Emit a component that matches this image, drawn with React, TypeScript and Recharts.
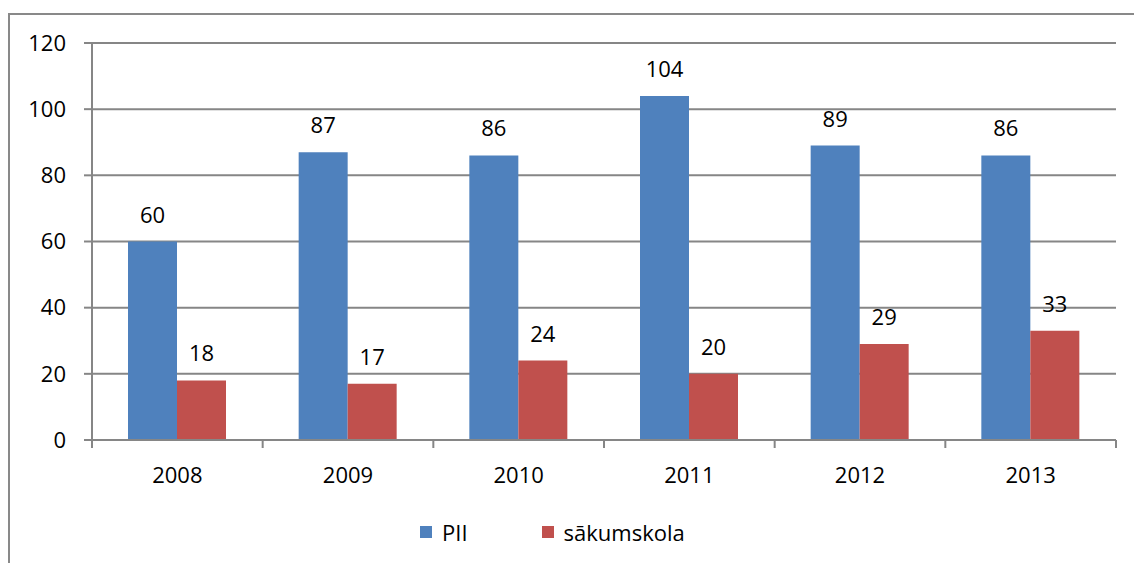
import { BarChart, Bar, XAxis, YAxis, CartesianGrid, LabelList } from "recharts";

const years = ["2008", "2009", "2010", "2011", "2012", "2013"];
const pii = [60, 87, 86, 104, 89, 86];
const sakumskola = [18, 17, 24, 20, 29, 33];
const yTicks = [0, 20, 40, 60, 80, 100, 120];

const seriesInfo = [
  { key: "pii", name: "PII", color: "#4F81BD" },
  { key: "sakumskola", name: "sākumskola", color: "#C0504D" },
];

const data = years.map((year, i) => ({
  year,
  pii: pii[i],
  sakumskola: sakumskola[i],
}));

const FONT = "'Open Sans', sans-serif";
const GRID = "#868686";

// category labels plus Excel-style ticks at the band edges
function YearTick(props: any) {
  const { x, y, payload, index } = props;
  const off = payload.offset ?? 0;
  const axisY = y - 27;
  return (
    <g>
      <line x1={x - off} x2={x - off} y1={axisY} y2={axisY + 8} stroke={GRID} strokeWidth={2} />
      {index === years.length - 1 && (
        <line x1={x + off} x2={x + off} y1={axisY} y2={axisY + 8} stroke={GRID} strokeWidth={2} />
      )}
      <text x={x} y={y} dy="0.71em" textAnchor="middle" fill="#000" fontSize={22} fontFamily={FONT}>
        {payload.value}
      </text>
    </g>
  );
}

export default function App() {
  return (
    <div
      style={{
        position: "fixed",
        left: 0,
        top: 0,
        width: 1134,
        height: 563,
        overflow: "hidden",
        background: "#fff",
        fontFamily: FONT,
      }}
    >
      <div
        style={{
          position: "absolute",
          left: 8,
          top: 13,
          width: 1140,
          height: 570,
          border: "2px solid #898989",
        }}
      />
      <div style={{ position: "absolute", left: 0, top: 0 }}>
        <BarChart
          width={1134}
          height={563}
          data={data}
          margin={{ top: 43, right: 18, left: 32, bottom: 83 }}
          barCategoryGap={36}
          barGap={0}
        >
          <CartesianGrid vertical={false} stroke={GRID} strokeWidth={2} />
          <XAxis
            dataKey="year"
            height={40}
            tickLine={false}
            tickSize={8}
            tickMargin={19}
            axisLine={{ stroke: GRID, strokeWidth: 2 }}
            tick={<YearTick />}
            interval={0}
          />
          <YAxis
            width={60}
            domain={[0, 120]}
            ticks={yTicks}
            interval={0}
            tickSize={8}
            tickMargin={18}
            tickLine={{ stroke: GRID, strokeWidth: 2 }}
            axisLine={{ stroke: GRID, strokeWidth: 2 }}
            tick={{ fill: "#000", fontSize: 22, fontFamily: FONT }}
          />
          {seriesInfo.map((s) => (
            <Bar key={s.key} dataKey={s.key} name={s.name} fill={s.color} isAnimationActive={false}>
              <LabelList
                dataKey={s.key}
                position="top"
                offset={19}
                fill="#000"
                fontSize={22}
                fontFamily={FONT}
              />
            </Bar>
          ))}
        </BarChart>
      </div>
      <div
        style={{
          position: "absolute",
          top: 519,
          left: 420,
          display: "flex",
          alignItems: "center",
          fontSize: 22,
          color: "#000",
          lineHeight: "26px",
        }}
      >
        {seriesInfo.map((s, i) => (
          <div key={s.key} style={{ display: "flex", alignItems: "center", marginRight: i === 0 ? 74 : 0 }}>
            <span style={{ display: "inline-block", width: 12, height: 12, background: s.color, marginRight: 10 }} />
            <span>{s.name}</span>
          </div>
        ))}
      </div>
    </div>
  );
}
